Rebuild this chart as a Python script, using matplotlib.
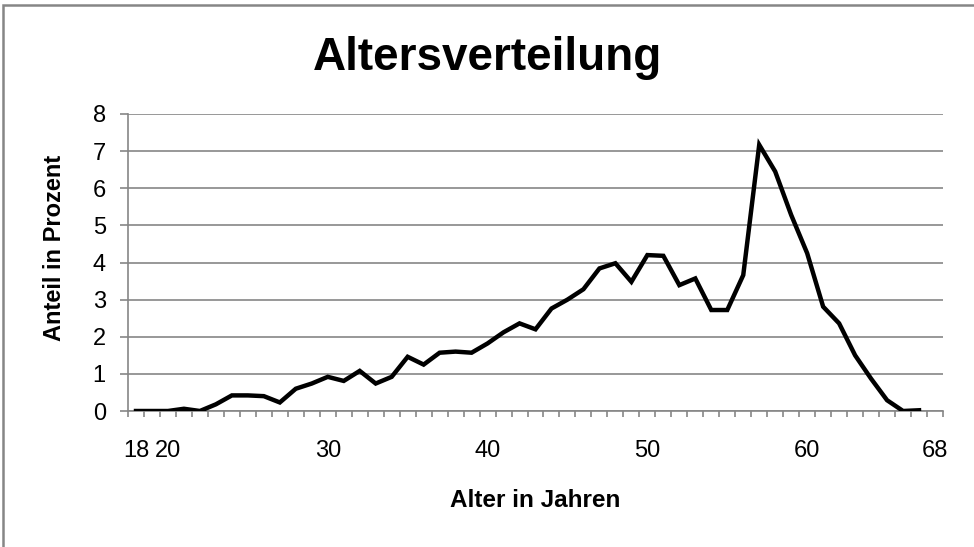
import numpy as np
import matplotlib
matplotlib.use('Agg')
import matplotlib.pyplot as plt
from matplotlib.patches import Rectangle

plt.rcParams['font.family'] = ['Liberation Sans', 'DejaVu Sans']

# Alter in Jahren und Anteil in Prozent
alter = np.arange(18, 68)
anteil = [0.0, 0.0, 0.0, 0.06, 0.0, 0.18, 0.42, 0.42, 0.40, 0.23,
          0.60, 0.74, 0.92, 0.81, 1.08, 0.74, 0.92, 1.46, 1.25, 1.57,
          1.60, 1.57, 1.82, 2.12, 2.36, 2.20, 2.76, 3.00, 3.28, 3.84,
          3.98, 3.48, 4.20, 4.18, 3.39, 3.57, 2.72, 2.72, 3.66, 7.17,
          6.45, 5.28, 4.25, 2.81, 2.36, 1.50, 0.87, 0.29, 0.0, 0.02]
x_ticks = [18, 20, 30, 40, 50, 60, 68]
y_ticks = list(range(0, 9))

grau = '#868686'

fig = plt.figure(figsize=(9.74, 5.47), dpi=100)
ax = fig.add_axes([128 / 974, 1 - 411 / 547, 815 / 974, 297 / 547])

ax.plot(alter, anteil, color='black', lw=3.2, solid_joinstyle='miter', zorder=3)

ax.set_xlim(17.5, 68.5)
ax.set_ylim(0, 8)
ax.set_yticks(y_ticks)
ax.set_xticks(x_ticks)
ax.set_xticks(np.arange(17.5, 69, 1), minor=True)
ax.grid(axis='y', color=grau, lw=1.2)
ax.set_axisbelow(True)

for s in ['top', 'right']:
    ax.spines[s].set_visible(False)
for s in ['left', 'bottom']:
    ax.spines[s].set_color(grau)
    ax.spines[s].set_linewidth(1.2)

ax.tick_params(axis='y', length=6, width=1.2, color=grau, pad=10, labelsize=17)
ax.tick_params(axis='x', which='major', length=0, pad=21, labelsize=17)
ax.tick_params(axis='x', which='minor', length=4.5, width=1.2, color=grau)

fig.text(0.5, 1 - 70 / 547, 'Altersverteilung', ha='center', va='baseline',
         fontsize=33, fontweight='bold')
fig.text(55 / 974, 1 - 248 / 547, 'Anteil in Prozent', rotation=90,
         ha='center', va='center', fontsize=17, fontweight='bold')
fig.text(535 / 974, 1 - 507 / 547, 'Alter in Jahren', ha='center',
         va='baseline', fontsize=17.5, fontweight='bold')

# Rahmen des Diagramms (rechts und unten abgeschnitten)
fig.patches.append(Rectangle((3 / 974, -0.1), 1.2, 1.1 - 5 / 547,
                             transform=fig.transFigure, fill=False,
                             edgecolor=grau, lw=1.8))

fig.savefig('out.png', dpi=100)
